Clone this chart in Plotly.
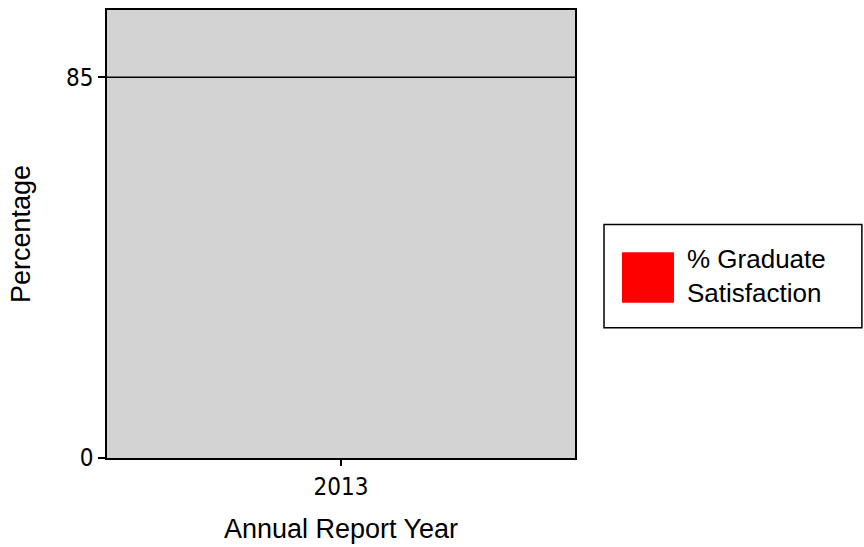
import plotly.graph_objects as go

# Data
years = ["2013"]
graduate_satisfaction = [None]  # no bar value shown for 2013
series_name = "% Graduate Satisfaction"
target_value = 85
y_tick_values = [0, 85]

fig = go.Figure()
fig.add_trace(go.Bar(
    x=years, y=graduate_satisfaction, name=series_name,
    marker_color="#ff0000", showlegend=False,
))

# Legend drawn with shapes for large swatch
L_X0, L_X1, L_Y0, L_Y1 = 1.062, 1.613, 0.291, 0.521
fig.add_shape(type="rect", xref="paper", yref="paper",
              x0=L_X0, x1=L_X1, y0=L_Y0, y1=L_Y1,
              line=dict(color="black", width=1.5), fillcolor="white")
fig.add_shape(type="rect", xref="paper", yref="paper",
              x0=1.1004, x1=1.2115, y0=0.3466, y1=0.459,
              line=dict(width=0), fillcolor="#ff0000")
fig.add_annotation(xref="paper", yref="paper", x=1.235, y=0.406,
                   xanchor="left", yanchor="middle", align="left",
                   showarrow=False,
                   text=series_name.replace("Graduate ", "Graduate<br>"),
                   font=dict(family="Liberation Sans, Arial", size=26, color="black"))

fig.update_layout(
    width=864, height=547,
    margin=dict(l=107, r=289, t=8, b=86),
    paper_bgcolor="white",
    plot_bgcolor="#d3d3d3",
    showlegend=False,
    xaxis=dict(
        type="category", categoryorder="array", categoryarray=years,
        range=[-0.5, 0.5],
        showline=True, linecolor="black", linewidth=1.5, mirror=True,
        ticks="outside", ticklen=6, tickcolor="black", tickwidth=1.5,
        tickfont=dict(family="DejaVu Sans Condensed, DejaVu Sans", size=24, color="black"),
        title=dict(text="Annual Report Year",
                   font=dict(family="Liberation Sans, Arial", size=27, color="black"),
                   standoff=20),
        showgrid=False, zeroline=False,
    ),
    yaxis=dict(
        range=[0, 100],
        tickvals=y_tick_values,
        showline=True, linecolor="black", linewidth=1.5, mirror=True,
        ticks="outside", ticklen=7, tickcolor="black", tickwidth=1.5,
        tickfont=dict(family="DejaVu Sans Condensed, DejaVu Sans", size=24, color="black"),
        title=dict(text="Percentage",
                   font=dict(family="Liberation Sans, Arial", size=27, color="black"),
                   standoff=28),
        showgrid=False, zeroline=False,
    ),
)

fig.add_shape(type="line", xref="paper", yref="y", x0=0, x1=1,
              y0=target_value, y1=target_value,
              line=dict(color="black", width=1.5))

fig.write_html("out.html",
               config={"displayModeBar": False},
               post_script="document.body.style.margin='0';document.body.style.overflow='hidden';")
